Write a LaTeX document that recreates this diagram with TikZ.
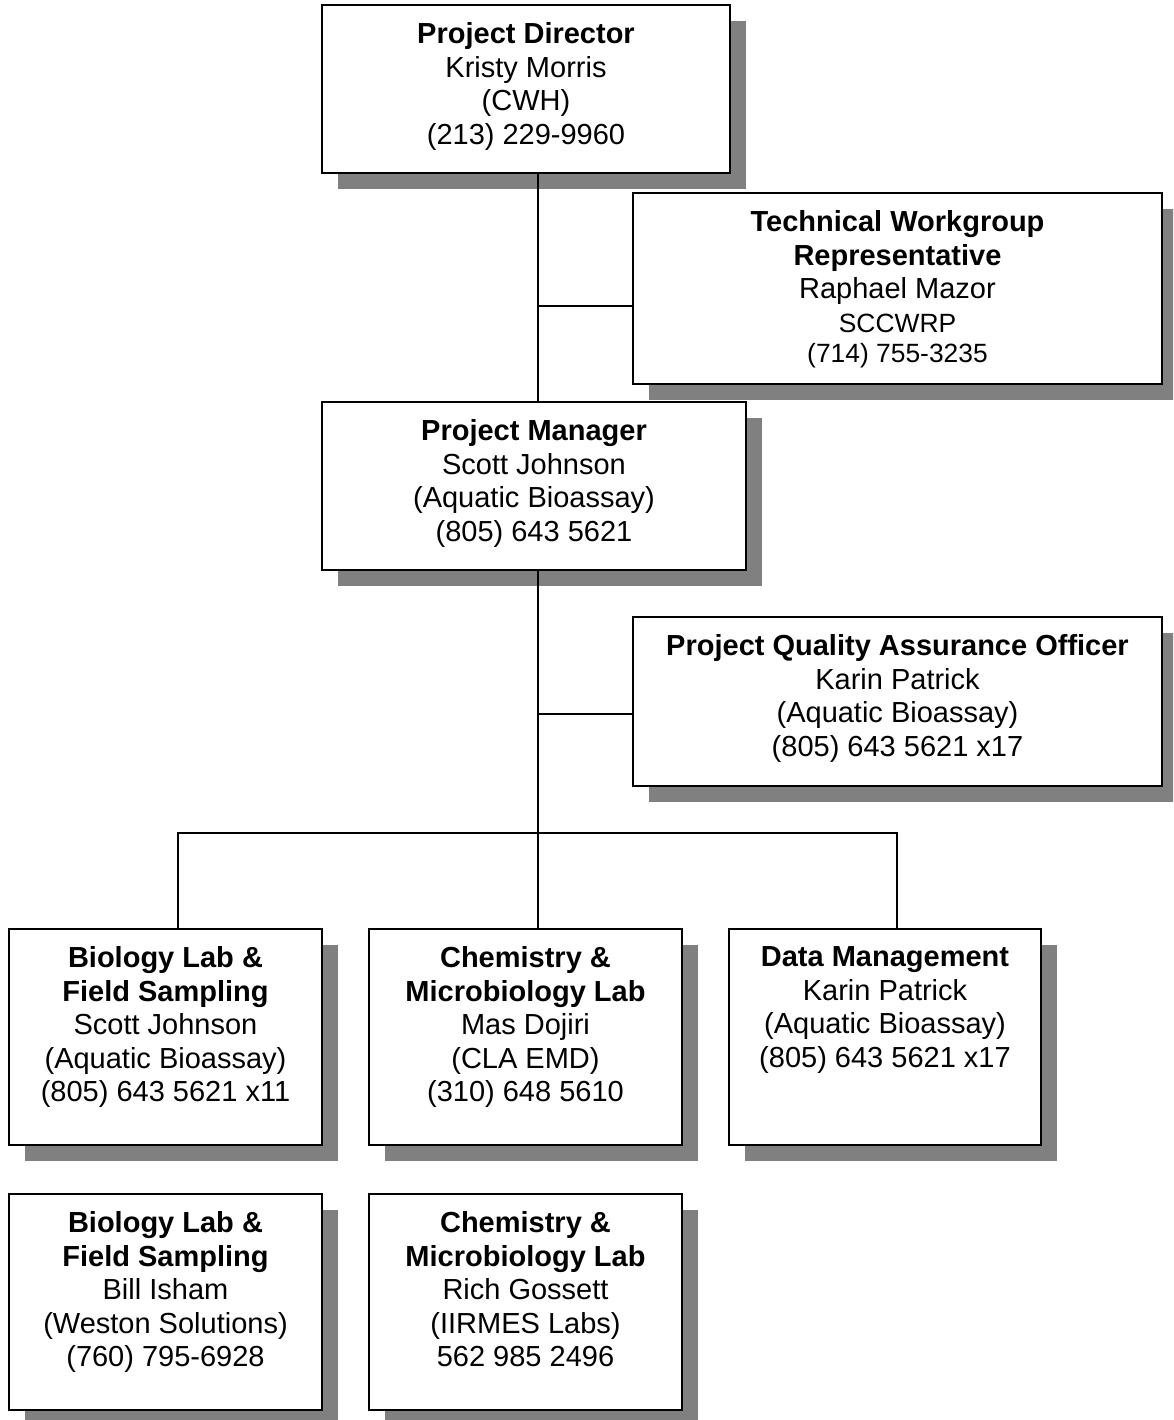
\documentclass[tikz,border=0pt]{standalone}
\usepackage{fontspec}
\setmainfont{Liberation Sans}
\usetikzlibrary{calc}
\definecolor{shadowgray}{HTML}{808080}
\tikzset{
  box/.style={draw=black, line width=2pt, fill=white, inner sep=0pt},
  txt/.style={align=center, anchor=north, inner sep=0pt, font=\fontsize{29}{33.5}\selectfont},
  conn/.style={draw=black, line width=1.5pt},
}
\newcommand{\smalltxt}[1]{{\fontsize{26.4}{30}\selectfont #1}}
\newcommand{\orgbox}[6]{%
  \fill[shadowgray] (#2+16,#3+16) rectangle (#4+16,#5+16);
  \node[box, minimum width={#4-#2}, minimum height={#5-#3}] (#1) at ({(#2+#4)/2},{(#3+#5)/2}) {};
  \node[txt] (#1-text) at ({(#2+#4)/2},{#3+17.5}) {#6};
}
\begin{document}
\begin{tikzpicture}[x=1pt, y=-1pt]
\useasboundingbox (0,0) rectangle (1173,1420);
\clip (0,0) rectangle (1173,1420);
\fill[white] (0,0) rectangle (1173,1420);

\orgbox{pd}{322}{5}{730}{173}{\textbf{Project Director}\\Kristy Morris\\(CWH)\\(213) 229-9960}
\orgbox{tw}{633}{193}{1162}{384}{\textbf{Technical Workgroup}\\\textbf{Representative}\\Raphael Mazor\\\smalltxt{SCCWRP}\\[-3pt]\smalltxt{(714) 755-3235}}
\orgbox{pm}{322}{402}{746}{570}{\textbf{Project Manager}\\Scott Johnson\\(Aquatic Bioassay)\\(805) 643 5621}
\orgbox{qa}{633}{617}{1162}{786}{\textbf{Project Quality Assurance Officer}\\Karin Patrick\\(Aquatic Bioassay)\\(805) 643 5621 x17}
\orgbox{b1}{9}{929}{322}{1145}{\textbf{Biology Lab \&}\\\textbf{Field Sampling}\\Scott Johnson\\(Aquatic Bioassay)\\(805) 643 5621 x11}
\orgbox{c1}{369}{929}{682}{1145}{\textbf{Chemistry \&}\\\textbf{Microbiology Lab}\\Mas Dojiri\\(CLA EMD)\\(310) 648 5610}
\orgbox{dm}{729}{929}{1041}{1145}{\textbf{Data Management}\\Karin Patrick\\(Aquatic Bioassay)\\(805) 643 5621 x17}
\orgbox{b2}{9}{1194}{322}{1410}{\textbf{Biology Lab \&}\\\textbf{Field Sampling}\\Bill Isham\\(Weston Solutions)\\(760) 795-6928}
\orgbox{c2}{369}{1194}{682}{1410}{\textbf{Chemistry \&}\\\textbf{Microbiology Lab}\\Rich Gossett\\(IIRMES Labs)\\562 985 2496}

\coordinate (trunk) at (538,0);
\coordinate (busy) at (0,833);
\coordinate (twj) at ([yshift=-17.5pt]tw.west);
\coordinate (qaj) at ([yshift=-12.5pt]qa.west);
\draw[conn] (pd.south -| trunk) -- (pm.north -| trunk);
\draw[conn] (twj) -- (twj -| trunk);
\draw[conn] (pm.south -| trunk) -- (c1.north -| trunk);
\draw[conn] (qaj) -- (qaj -| trunk);
\draw[conn] ([xshift=12.5pt]b1.north) |- ([xshift=12pt]dm.north |- busy) -- ([xshift=12pt]dm.north);
\end{tikzpicture}
\end{document}
